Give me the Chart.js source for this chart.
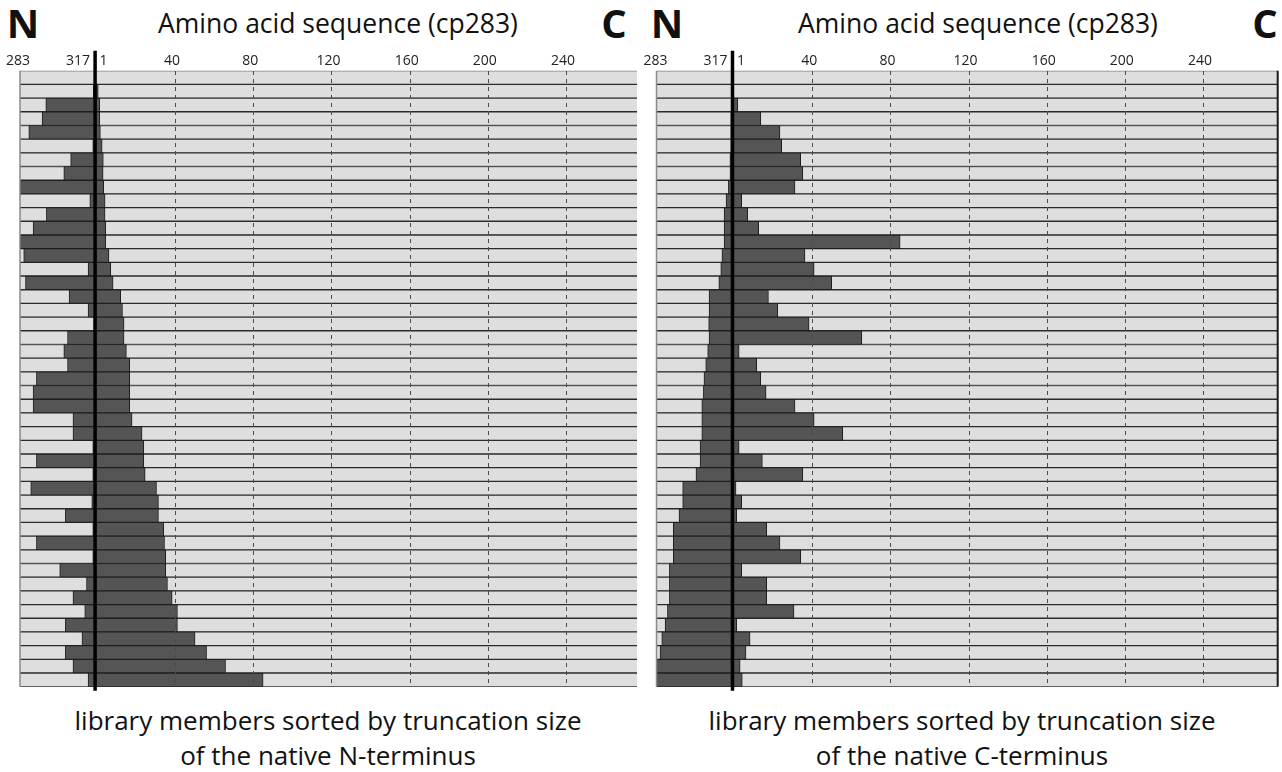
<!DOCTYPE html>
<html><head><meta charset="utf-8">
<script src="https://cdn.jsdelivr.net/npm/chart.js@4/dist/chart.umd.min.js"></script>
<style>
body{margin:0;width:1282px;height:772px;background:#fff;position:relative;overflow:hidden;font-family:'Open Sans',sans-serif;color:#111}
.t{position:absolute;line-height:1;white-space:nowrap;text-align:center}
.big{font-weight:700;font-size:40px;width:60px;top:2.5px}
.title{font-size:26.5px;width:600px;top:9.5px}
.foot{font-size:26px;line-height:35px;width:640px;top:703.4px}
canvas{position:absolute;top:0}
</style></head><body>
<div class="t big" style="left:-7px">N</div>
<div class="t title" style="left:38px">Amino acid sequence (cp283)</div>
<div class="t big" style="left:584px">C</div>
<div class="t big" style="left:637px">N</div>
<div class="t title" style="left:678px">Amino acid sequence (cp283)</div>
<div class="t big" style="left:1235px">C</div>
<div class="t foot" style="left:8px">library members sorted by truncation size<br>of the native N-terminus</div>
<div class="t foot" style="left:642px">library members sorted by truncation size<br>of the native C-terminus</div>
<canvas id="cN" width="640" height="700" style="left:0"></canvas>
<canvas id="cC" width="642" height="700" style="left:640px"></canvas>
<script>
// Row categories (library members, sorted)
const rowLabels = ['1','2','3','4','5','6','7','8','9','10','11','12','13','14','15','16','17','18','19','20','21','22','23','24','25','26','27','28','29','30','31','32','33','34','35','36','37','38','39','40','41','42','43','44','45'];

// x-axis: residue offset, 0 = junction 317|1 ; ticks
const tickValues = [-38.7, -8, 5, 40, 80, 120, 160, 200, 240];
const tickLabels = ['283', '317', '1', '40', '80', '120', '160', '200', '240'];
const junction = -1.1;

// full sequence extent for each panel
const nPanelRange = [-39.5, 276];
const cPanelRange = [-40, 278];

// Panel 1: sorted by N-terminal truncation — dark segment start / end
const nTruncStart = [null, -2, -26.3, -28.2, -35, -2.3, -13.6, -17.1, -39.5, -3.8, -26, -32.8, -39.5, -37.6, -4.7, -36.7, -14.4, -4.7, -1.8, -15.2, -17.1, -15.2, -31.1, -32.8, -32.8, -12.4, -12.4, -2.3, -31.1, -2.3, -34, -2.8, -16.3, -2.3, -31.1, -2.3, -19.2, -5.5, -12.4, -6.4, -16.3, -7.8, -16.3, -12.4, -4.7];
const nTruncEnd   = [null, 0.5, 1.3, 1.3, 1.6, 2.5, 3.1, 3.0, 3.3, 4.0, 4.0, 4.3, 4.3, 6.0, 6.9, 8.1, 12.0, 12.9, 13.7, 13.7, 14.9, 16.6, 16.6, 16.6, 16.6, 17.8, 22.9, 23.8, 23.8, 24.5, 30.3, 31.3, 31.3, 34, 34.4, 35, 35, 35.9, 38.3, 41, 41, 50, 55.9, 65.6, 84.8];

// Panel 2: sorted by C-terminal truncation — dark segment start / end
const cTruncStart = [null, null, -1.5, -2, -2, -2, -2.4, -2.4, -3.2, -4.4, -5.4, -5.4, -5.4, -6.5, -7.1, -8.1, -13.1, -13.1, -13.3, -13.1, -13.8, -14.8, -15.7, -16, -16.8, -16.8, -16.8, -17.7, -17.7, -19.8, -26.6, -26.6, -28.5, -31.4, -31.4, -31.4, -33.4, -33.4, -33.4, -34.4, -35.6, -37.3, -38.2, -40, -40];
const cTruncEnd   = [null, null, 1.6, 13.4, 23.2, 24.1, 33.8, 34.9, 30.9, 3.6, 6.7, 12.3, 84.7, 36.0, 40.7, 49.7, 17.3, 22.1, 38.1, 65.1, 2.3, 11.3, 13.4, 16.1, 30.9, 40.7, 55.3, 2.3, 14.2, 34.9, 0.7, 3.6, 1.1, 16.4, 23.2, 33.8, 3.6, 16.4, 16.4, 30.4, 1.1, 7.9, 5.8, 2.8, 3.9];

const junctionLine = {
  id: 'junctionLine',
  afterDraw(chart, args, opts) {
    const {ctx, chartArea: a, scales: {x}} = chart;
    ctx.save();
    ctx.strokeStyle = '#8a8a8a'; ctx.lineWidth = 1.5;
    ctx.beginPath(); ctx.moveTo(a.left, a.top); ctx.lineTo(a.left, a.bottom); ctx.stroke();
    if (opts.rightEdge) {
      ctx.strokeStyle = '#1a1a1a'; ctx.lineWidth = 2;
      ctx.beginPath(); ctx.moveTo(a.right, a.top); ctx.lineTo(a.right, a.bottom); ctx.stroke();
    }
    const px = x.getPixelForValue(junction);
    ctx.strokeStyle = '#000'; ctx.lineWidth = 3.5;
    ctx.beginPath(); ctx.moveTo(px, a.top - 20); ctx.lineTo(px, a.bottom + 4); ctx.stroke();
    ctx.restore();
  }
};

function makeChart(id, starts, ends, range, padding, rightEdge) {
  return new Chart(document.getElementById(id), {
    type: 'bar',
    data: {
      labels: rowLabels,
      datasets: [
        {
          label: 'truncation',
          data: starts.map((s, i) => s == null ? null : [s, ends[i]]),
          backgroundColor: '#555555',
          borderColor: '#1e1e1e',
          borderWidth: 1,
          borderSkipped: false,
          barPercentage: 1, categoryPercentage: 1,
          grouped: false, order: 1
        },
        {
          label: 'sequence',
          data: rowLabels.map(() => [range[0], range[1]]),
          backgroundColor: '#dedede',
          borderColor: '#2b2b2b',
          borderWidth: {top: 1, bottom: 1, left: 0, right: 0},
          borderSkipped: false,
          barPercentage: 1, categoryPercentage: 1,
          grouped: false, order: 2
        }
      ]
    },
    options: {
      indexAxis: 'y',
      responsive: false,
      animation: false,
      layout: {padding: padding},
      plugins: {legend: {display: false}, tooltip: {enabled: false}, junctionLine: {rightEdge: rightEdge}},
      scales: {
        x: {
          type: 'linear', position: 'top', min: range[0], max: range[1],
          afterBuildTicks: s => { s.ticks = tickValues.map(v => ({value: v})); },
          afterFit: s => { s.height = 20; s.paddingLeft = 0; s.paddingRight = 0; },
          ticks: {
            autoSkip: false, maxRotation: 0, minRotation: 0, padding: 1.3, labelOffset: -3.5,
            color: '#222', font: {family: 'Open Sans', size: 14},
            callback: (v, i) => tickLabels[i]
          },
          grid: {
            drawTicks: false, lineWidth: 1, z: 1,
            color: c => (c.tick && c.tick.value >= 40) ? '#4a4a4a' : 'rgba(0,0,0,0)'
          },
          border: {display: false, dash: [4, 4]}
        },
        y: {type: 'category', display: false, offset: true}
      }
    },
    plugins: [junctionLine]
  });
}

makeChart('cN', nTruncStart, nTruncEnd, nPanelRange, {left: 20, right: 3, top: 50.7, bottom: 13.3}, false);
makeChart('cC', cTruncStart, cTruncEnd, cPanelRange, {left: 16.5, right: 4.3, top: 50.7, bottom: 13.3}, true);
</script>
</body></html>
